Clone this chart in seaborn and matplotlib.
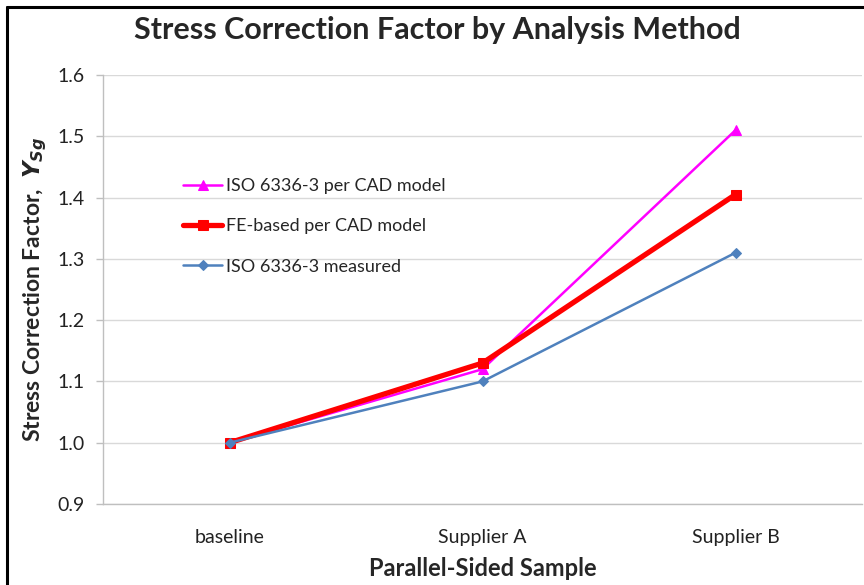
import matplotlib
matplotlib.use("Agg")
import matplotlib.pyplot as plt
import seaborn as sns
import pandas as pd
from matplotlib.lines import Line2D

categories = ["baseline", "Supplier A", "Supplier B"]
iso_cad = [1.00, 1.12, 1.51]
fe_cad = [1.00, 1.13, 1.405]
iso_meas = [1.00, 1.10, 1.31]
series_names = ["ISO 6336-3 per CAD model", "FE-based per CAD model", "ISO 6336-3 measured"]
y_ticks = [0.9, 1.0, 1.1, 1.2, 1.3, 1.4, 1.5, 1.6]

sns.set_theme(style="white")
plt.rcParams['font.family'] = ['Lato', 'DejaVu Sans']
plt.rcParams['mathtext.fontset'] = 'dejavusans'

rows = []
for name, vals in zip(series_names, [iso_cad, fe_cad, iso_meas]):
    for c, v in zip(categories, vals):
        rows.append({"Sample": c, "Value": v, "Series": name})
df = pd.DataFrame(rows)

fig = plt.figure(figsize=(8.64, 5.85), dpi=100)
ax = fig.add_axes([103/864, 1-504/585, (862-103)/864, (504-75)/585])

styles = {
    series_names[0]: dict(color="#FF00FF", lw=1.8, marker="^", ms=7),
    series_names[1]: dict(color="#FF0000", lw=3.8, marker="s", ms=7),
    series_names[2]: dict(color="#4F81BD", lw=1.8, marker="D", ms=5),
}
for name in series_names:
    st = styles[name]
    sub = df[df["Series"] == name]
    sns.lineplot(data=sub, x="Sample", y="Value", ax=ax, color=st["color"],
                 linewidth=st["lw"], marker=st["marker"], markersize=st["ms"],
                 markeredgecolor=st["color"], markerfacecolor=st["color"],
                 label=name, sort=False, errorbar=None)

ax.set_xlim(-0.5, 2.5)
ax.set_ylim(0.9, 1.6)
ax.set_yticks(y_ticks)
ax.set_yticklabels([f"{t:.1f}" for t in y_ticks], fontsize=14, color="#222222")
ax.set_xticks(range(len(categories)))
ax.set_xticklabels(categories, fontsize=14, color="#222222")
ax.set_xticks([-0.5, 0.5, 1.5, 2.5], minor=True)
ax.tick_params(axis="x", which="major", length=0, pad=18)
ax.tick_params(axis="x", which="minor", length=5, color="#BFBFBF", width=1)
ax.tick_params(axis="y", which="major", length=5, color="#BFBFBF", width=1, left=True, pad=8)
ax.grid(axis="y", color="#D9D9D9", linewidth=1)
ax.set_axisbelow(True)
for s in ["top", "right"]:
    ax.spines[s].set_visible(False)
for s in ["left", "bottom"]:
    ax.spines[s].set_color("#BFBFBF")
    ax.spines[s].set_linewidth(1)

ax.set_xlabel("Parallel-Sided Sample", fontsize=17, fontweight="bold", labelpad=8)
ax.set_ylabel(r"Stress Correction Factor,  $\mathbfit{Y}_{\mathbfit{Sg}}$", fontsize=16.5,
              fontweight="bold", labelpad=6)

leg = ax.legend(loc="upper left", bbox_to_anchor=(0.105, 0.76), frameon=False,
                borderaxespad=0, borderpad=0,
                fontsize=13, handlelength=2.2, handletextpad=0.2, labelspacing=1.35)

fig.text(437/864, 1-30/585, "Stress Correction Factor by Analysis Method",
         ha="center", va="center", fontsize=22, fontweight="bold")

fig.add_artist(Line2D([7/864, 7/864], [0, 1-7/585], color="black", lw=2.2, transform=fig.transFigure))
fig.add_artist(Line2D([7/864, 1], [1-7/585, 1-7/585], color="black", lw=2.2, transform=fig.transFigure))

fig.savefig("out.png", dpi=100)
